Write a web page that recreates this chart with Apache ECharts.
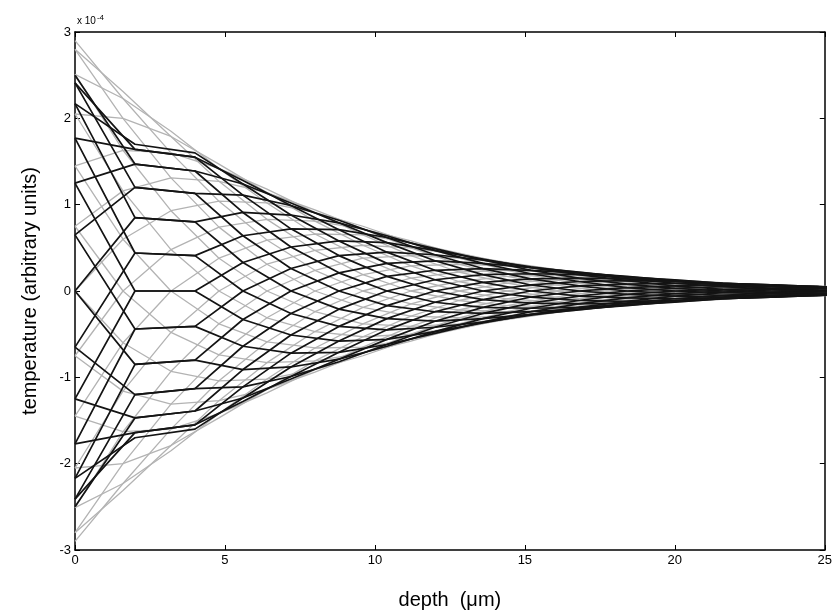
<!DOCTYPE html>
<html>
<head>
<meta charset="utf-8">
<script src="https://cdn.jsdelivr.net/npm/echarts@6/dist/echarts.min.js"></script>
<style>
    html, body { margin: 0; padding: 0; background: #fff; }
    #chart { width: 835px; height: 615px; }
</style>
</head>
<body>
<div id="chart"></div>
<script>
// depth samples (um) for each family
const grayDepth = [0, 1.6, 3.2, 4.8, 6.4, 8.0, 9.6, 11.2, 12.8, 14.4, 16.0, 17.6, 19.2, 20.8, 22.4, 24.0, 25.6];
const blackDepth = [0, 2, 4, 5.6, 7.2, 8.8, 10.4, 12.0, 13.6, 15.2, 16.8, 18.4, 20.0, 21.6, 23.2, 24.8, 26.4];

// temperature, units of 1e-4, one row per curve
const grayTemps = [
    [2.90, 2.23, 1.60, 1.04, 0.59, 0.24, 0, -0.15, -0.22, -0.24, -0.22, -0.19, -0.15, -0.11, -0.07, -0.04, -0.02],
    [2.80, 2.31, 1.79, 1.27, 0.83, 0.47, 0.19, 0, -0.11, -0.17, -0.18, -0.17, -0.14, -0.11, -0.08, -0.05, -0.03],
    [2.51, 2.23, 1.85, 1.42, 1.02, 0.66, 0.38, 0.15, 0, -0.09, -0.13, -0.14, -0.13, -0.11, -0.08, -0.06, -0.04],
    [2.05, 2.00, 1.79, 1.47, 1.14, 0.81, 0.53, 0.29, 0.11, 0, -0.07, -0.10, -0.11, -0.10, -0.08, -0.06, -0.04],
    [1.45, 1.63, 1.60, 1.42, 1.18, 0.91, 0.65, 0.41, 0.22, 0.09, 0, -0.05, -0.07, -0.08, -0.07, -0.06, -0.05],
    [0.75, 1.16, 1.31, 1.27, 1.14, 0.94, 0.72, 0.50, 0.31, 0.17, 0.07, 0, -0.04, -0.06, -0.06, -0.05, -0.04],
    [0, 0.60, 0.93, 1.04, 1.02, 0.91, 0.75, 0.56, 0.38, 0.24, 0.13, 0.05, 0, -0.03, -0.04, -0.04, -0.04],
    [-0.75, 0, 0.48, 0.74, 0.83, 0.81, 0.72, 0.58, 0.42, 0.29, 0.18, 0.10, 0.04, 0, -0.02, -0.03, -0.03],
    [-1.45, -0.60, 0, 0.38, 0.59, 0.66, 0.65, 0.56, 0.44, 0.32, 0.22, 0.14, 0.07, 0.03, 0, -0.02, -0.02],
    [-2.05, -1.16, -0.48, 0, 0.31, 0.47, 0.53, 0.50, 0.42, 0.33, 0.25, 0.17, 0.11, 0.06, 0.02, 0, -0.01],
    [-2.51, -1.63, -0.93, -0.38, 0, 0.24, 0.38, 0.41, 0.38, 0.32, 0.25, 0.19, 0.13, 0.08, 0.04, 0.02, 0],
    [-2.80, -2.00, -1.31, -0.74, -0.31, 0, 0.19, 0.29, 0.31, 0.29, 0.25, 0.19, 0.14, 0.10, 0.06, 0.03, 0.01],
    [-2.90, -2.23, -1.60, -1.04, -0.59, -0.24, 0, 0.15, 0.22, 0.24, 0.22, 0.19, 0.15, 0.11, 0.07, 0.04, 0.02],
    [-2.80, -2.31, -1.79, -1.27, -0.83, -0.47, -0.19, 0, 0.11, 0.17, 0.18, 0.17, 0.14, 0.11, 0.08, 0.05, 0.03],
    [-2.51, -2.23, -1.85, -1.42, -1.02, -0.66, -0.38, -0.15, 0, 0.09, 0.13, 0.14, 0.13, 0.11, 0.08, 0.06, 0.04],
    [-2.05, -2.00, -1.79, -1.47, -1.14, -0.81, -0.53, -0.29, -0.11, 0, 0.07, 0.10, 0.11, 0.10, 0.08, 0.06, 0.04],
    [-1.45, -1.63, -1.60, -1.42, -1.18, -0.91, -0.65, -0.41, -0.22, -0.09, 0, 0.05, 0.07, 0.08, 0.07, 0.06, 0.05],
    [-0.75, -1.16, -1.31, -1.27, -1.14, -0.94, -0.72, -0.50, -0.31, -0.17, -0.07, 0, 0.04, 0.06, 0.06, 0.05, 0.04],
    [0, -0.60, -0.93, -1.04, -1.02, -0.91, -0.75, -0.56, -0.38, -0.24, -0.13, -0.05, 0, 0.03, 0.04, 0.04, 0.04],
    [0.75, 0, -0.48, -0.74, -0.83, -0.81, -0.72, -0.58, -0.42, -0.29, -0.18, -0.10, -0.04, 0, 0.02, 0.03, 0.03],
    [1.45, 0.60, 0, -0.38, -0.59, -0.66, -0.65, -0.56, -0.44, -0.32, -0.22, -0.14, -0.07, -0.03, 0, 0.02, 0.02],
    [2.05, 1.16, 0.48, 0, -0.31, -0.47, -0.53, -0.50, -0.42, -0.33, -0.25, -0.17, -0.11, -0.06, -0.02, 0, 0.01],
    [2.51, 1.63, 0.93, 0.38, 0, -0.24, -0.38, -0.41, -0.38, -0.32, -0.25, -0.19, -0.13, -0.08, -0.04, -0.02, 0],
    [2.80, 2.00, 1.31, 0.74, 0.31, 0, -0.19, -0.29, -0.31, -0.29, -0.25, -0.19, -0.14, -0.10, -0.06, -0.03, -0.01]
];

const blackTemps = [
    [2.50, 1.47, 1.39, 0.91, 0.51, 0.21, 0, -0.13, -0.19, -0.20, -0.19, -0.16, -0.13, -0.09, -0.06, -0.04, -0.02],
    [2.41, 1.64, 1.55, 1.11, 0.72, 0.41, 0.17, 0, -0.10, -0.14, -0.15, -0.14, -0.12, -0.09, -0.07, -0.04, -0.03],
    [2.17, 1.70, 1.60, 1.24, 0.88, 0.58, 0.32, 0.13, 0, -0.07, -0.11, -0.12, -0.11, -0.09, -0.07, -0.05, -0.03],
    [1.77, 1.64, 1.55, 1.28, 0.99, 0.71, 0.45, 0.24, 0.10, 0, -0.06, -0.08, -0.09, -0.08, -0.07, -0.05, -0.04],
    [1.25, 1.47, 1.39, 1.24, 1.02, 0.79, 0.56, 0.35, 0.19, 0.07, 0, -0.04, -0.06, -0.07, -0.06, -0.05, -0.04],
    [0.65, 1.20, 1.13, 1.11, 0.99, 0.82, 0.62, 0.42, 0.26, 0.14, 0.06, 0, -0.03, -0.05, -0.05, -0.04, -0.04],
    [0, 0.85, 0.80, 0.91, 0.88, 0.79, 0.64, 0.47, 0.32, 0.20, 0.11, 0.04, 0, -0.02, -0.03, -0.04, -0.03],
    [-0.65, 0.44, 0.41, 0.64, 0.72, 0.71, 0.62, 0.49, 0.36, 0.24, 0.15, 0.08, 0.03, 0, -0.02, -0.03, -0.03],
    [-1.25, 0, 0, 0.33, 0.51, 0.58, 0.56, 0.47, 0.37, 0.27, 0.19, 0.12, 0.06, 0.02, 0, -0.01, -0.02],
    [-1.77, -0.44, -0.41, 0, 0.26, 0.41, 0.45, 0.42, 0.36, 0.28, 0.21, 0.14, 0.09, 0.05, 0.02, 0, -0.01],
    [-2.17, -0.85, -0.80, -0.33, 0, 0.21, 0.32, 0.35, 0.32, 0.27, 0.22, 0.16, 0.11, 0.07, 0.03, 0.01, 0],
    [-2.41, -1.20, -1.13, -0.64, -0.26, 0, 0.17, 0.24, 0.26, 0.24, 0.21, 0.17, 0.12, 0.08, 0.05, 0.03, 0.01],
    [-2.50, -1.47, -1.39, -0.91, -0.51, -0.21, 0, 0.13, 0.19, 0.20, 0.19, 0.16, 0.13, 0.09, 0.06, 0.04, 0.02],
    [-2.41, -1.64, -1.55, -1.11, -0.72, -0.41, -0.17, 0, 0.10, 0.14, 0.15, 0.14, 0.12, 0.09, 0.07, 0.04, 0.03],
    [-2.17, -1.70, -1.60, -1.24, -0.88, -0.58, -0.32, -0.13, 0, 0.07, 0.11, 0.12, 0.11, 0.09, 0.07, 0.05, 0.03],
    [-1.77, -1.64, -1.55, -1.28, -0.99, -0.71, -0.45, -0.24, -0.10, 0, 0.06, 0.08, 0.09, 0.08, 0.07, 0.05, 0.04],
    [-1.25, -1.47, -1.39, -1.24, -1.02, -0.79, -0.56, -0.35, -0.19, -0.07, 0, 0.04, 0.06, 0.07, 0.06, 0.05, 0.04],
    [-0.65, -1.20, -1.13, -1.11, -0.99, -0.82, -0.62, -0.42, -0.26, -0.14, -0.06, 0, 0.03, 0.05, 0.05, 0.04, 0.04],
    [0, -0.85, -0.80, -0.91, -0.88, -0.79, -0.64, -0.47, -0.32, -0.20, -0.11, -0.04, 0, 0.02, 0.03, 0.04, 0.03],
    [0.65, -0.44, -0.41, -0.64, -0.72, -0.71, -0.62, -0.49, -0.36, -0.24, -0.15, -0.08, -0.03, 0, 0.02, 0.03, 0.03],
    [1.25, 0, 0, -0.33, -0.51, -0.58, -0.56, -0.47, -0.37, -0.27, -0.19, -0.12, -0.06, -0.02, 0, 0.01, 0.02],
    [1.77, 0.44, 0.41, 0, -0.26, -0.41, -0.45, -0.42, -0.36, -0.28, -0.21, -0.14, -0.09, -0.05, -0.02, 0, 0.01],
    [2.17, 0.85, 0.80, 0.33, 0, -0.21, -0.32, -0.35, -0.32, -0.27, -0.22, -0.16, -0.11, -0.07, -0.03, -0.01, 0],
    [2.41, 1.20, 1.13, 0.64, 0.26, 0, -0.17, -0.24, -0.26, -0.24, -0.21, -0.17, -0.12, -0.08, -0.05, -0.03, -0.01]
];

const xTicks = ['0', '5', '10', '15', '20', '25'];
const yTicks = ['-3', '-2', '-1', '0', '1', '2', '3'];

const FONT = 'Liberation Sans';

function makeSeries(depth, rows, color, width) {
    return rows.map(function (row) {
        return {
            type: 'line',
            data: depth.map(function (x, i) { return [x, row[i]]; }),
            showSymbol: false,
            silent: true,
            clip: true,
            lineStyle: { color: color, width: width },
            z: 2
        };
    });
}

let chart = echarts.init(document.getElementById('chart'));

// box axes, matlab style: ticks inside on all four sides
function boxAxis(extra) {
    return Object.assign({
        axisLine: { show: true, onZero: false, lineStyle: { color: '#000', width: 1.5 } },
        axisTick: { show: true, inside: true, length: 5, lineStyle: { color: '#000', width: 1 } },
        splitLine: { show: false }
    }, extra);
}

chart.setOption({
    animation: false,
    backgroundColor: '#fff',
    grid: { left: 75, right: 10, top: 32, bottom: 65 },
    xAxis: [boxAxis({
        type: 'value', min: 0, max: 25, interval: 5, position: 'bottom',
        axisLabel: { color: '#000', fontFamily: FONT, fontSize: 13, margin: 4,
            formatter: function (v) { return xTicks[v / 5]; } },
        name: 'depth  (\u03bcm)', nameLocation: 'middle', nameGap: 40,
        nameTextStyle: { color: '#000', fontFamily: FONT, fontSize: 20 }
    }), boxAxis({
        type: 'value', min: 0, max: 25, interval: 5, position: 'top',
        axisLabel: { show: false }
    })],
    yAxis: [boxAxis({
        type: 'value', min: -3, max: 3, interval: 1, position: 'left',
        axisLabel: { color: '#000', fontFamily: FONT, fontSize: 13, margin: 4,
            formatter: function (v) { return yTicks[v + 3]; } },
        name: 'temperature (arbitrary units)', nameLocation: 'middle', nameGap: 35,
        nameTextStyle: { color: '#000', fontFamily: FONT, fontSize: 20 }
    }), boxAxis({
        type: 'value', min: -3, max: 3, interval: 1, position: 'right',
        axisLabel: { show: false }
    })],
    graphic: [{
        type: 'text', left: 77, top: 14,
        style: {
            text: '{a|x 10}{b|-4}',
            rich: {
                a: { fontFamily: FONT, fontSize: 10, fill: '#000' },
                b: { fontFamily: FONT, fontSize: 8, fill: '#000', verticalAlign: 'top', padding: [0, 0, 6, 1] }
            }
        }
    }],
    series: makeSeries(grayDepth, grayTemps, '#b3b3b3', 1.3)
        .concat(makeSeries(blackDepth, blackTemps, '#141414', 1.7))
});
</script>
</body>
</html>
